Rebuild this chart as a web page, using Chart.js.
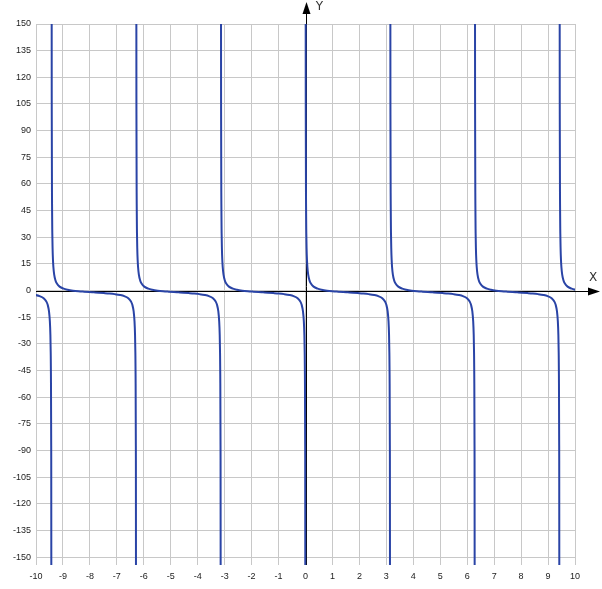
<!DOCTYPE html>
<html>
<head>
<meta charset="utf-8">
<script src="https://cdn.jsdelivr.net/npm/chart.js@4/dist/chart.umd.min.js"></script>
<style>
  html, body { margin:0; padding:0; background:#fff; }
  #graph { display:block; }
</style>
</head>
<body>
<canvas id="graph" width="602" height="589"></canvas>
<script>
// ramas de la curva: cada una empieza en una asintota vertical
const asymptotes = [-12.566, -9.425, -6.283, -3.142, 0, 3.142, 6.283, 9.425];

// desplazamiento dentro de la rama y valor
const offsets = [0.002, 0.005, 0.01, 0.02, 0.03, 0.04, 0.055, 0.07, 0.1, 0.15, 0.2, 0.3, 0.45, 0.6, 0.8,
                 1.0, 1.2, 1.4, 1.571, 1.75, 1.95, 2.15, 2.35, 2.55, 2.7, 2.85, 2.95, 3.0, 3.05, 3.08,
                 3.1, 3.112, 3.12, 3.13, 3.136, 3.1396];
const profile = [499, 199, 99, 49, 32.3, 24, 17.2, 13.3, 8.97, 5.62, 3.93, 2.23, 1.07, 0.46, -0.03,
                 -0.36, -0.61, -0.83, -1, -1.18, -1.4, -1.65, -1.99, -2.49, -3.12, -4.33, -6.16, -8.02, -11.9, -17.2,
                 -25, -34.8, -47.3, -87.2, -179.6, -501];

const xTicks = [-10,-9,-8,-7,-6,-5,-4,-3,-2,-1,0,1,2,3,4,5,6,7,8,9,10];
const yTicks = [150,135,120,105,90,75,60,45,30,15,0,-15,-30,-45,-60,-75,-90,-105,-120,-135,-150];
const xRange = [-10, 10];
const yRange = [-154.4, 150];

// puntos: rama por rama, con un hueco (null) entre ellas
const points = [];
asymptotes.forEach(a => {
    offsets.forEach((d, i) => points.push({x: a + d, y: profile[i]}));
    points.push({x: a + 3.1405, y: null});
});

const tickFont = { family: '"Liberation Sans", Arial, sans-serif', size: 9 };

// ejes negros con flechas y letras X / Y
const axesPlugin = {
    id: 'axesArrows',
    beforeDatasetsDraw(chart) {
        const {ctx, chartArea, scales} = chart;
        const x0 = Math.round(scales.x.getPixelForValue(0)) + 0.5;
        const y0 = Math.round(scales.y.getPixelForValue(0)) + 0.5;
        ctx.save();
        ctx.strokeStyle = '#000';
        ctx.fillStyle = '#000';
        ctx.lineWidth = 1;
        ctx.beginPath();
        ctx.moveTo(x0, chartArea.bottom);
        ctx.lineTo(x0, 8);
        ctx.moveTo(chartArea.left, y0);
        ctx.lineTo(594, y0);
        ctx.stroke();
        ctx.beginPath();
        ctx.moveTo(x0, 2);
        ctx.lineTo(x0 - 4, 14);
        ctx.lineTo(x0 + 4, 14);
        ctx.closePath();
        ctx.fill();
        ctx.beginPath();
        ctx.moveTo(600, y0);
        ctx.lineTo(588, y0 - 4);
        ctx.lineTo(588, y0 + 4);
        ctx.closePath();
        ctx.fill();
        ctx.fillStyle = '#333';
        ctx.font = '12px "DejaVu Sans", sans-serif';
        ctx.textAlign = 'center';
        ctx.textBaseline = 'middle';
        ctx.fillText('Y', x0 + 13, 7);
        ctx.fillText('X', 593, y0 - 14);
        ctx.restore();
    }
};

new Chart(document.getElementById('graph'), {
    type: 'scatter',
    data: {
        datasets: [{
            data: points,
            showLine: true,
            spanGaps: false,
            borderColor: '#2a44a6',
            borderWidth: 2,
            pointRadius: 0,
            cubicInterpolationMode: 'monotone',
            clip: 0
        }]
    },
    options: {
        responsive: false,
        animation: false,
        devicePixelRatio: 1,
        layout: { padding: { top: 24, right: 27, left: 0, bottom: 0 } },
        plugins: { legend: { display: false }, tooltip: { enabled: false } },
        scales: {
            x: {
                type: 'linear',
                min: xRange[0], max: xRange[1],
                afterBuildTicks: s => { s.ticks = xTicks.map(v => ({value: v})); },
                afterFit: s => { s.height = 24; },
                grid: { color: '#c8c8c8', drawTicks: false },
                border: { display: false },
                ticks: { padding: 6, font: tickFont, color: '#222', maxRotation: 0, autoSkip: false, callback: v => v }
            },
            y: {
                type: 'linear',
                min: yRange[0], max: yRange[1],
                afterBuildTicks: s => { s.ticks = yTicks.map(v => ({value: v})); },
                afterFit: s => { s.width = 36; },
                grid: { color: '#c8c8c8', drawTicks: false },
                border: { display: false },
                ticks: { padding: 5, font: tickFont, color: '#222', autoSkip: false, callback: v => v }
            }
        }
    },
    plugins: [axesPlugin]
});
</script>
</body>
</html>
